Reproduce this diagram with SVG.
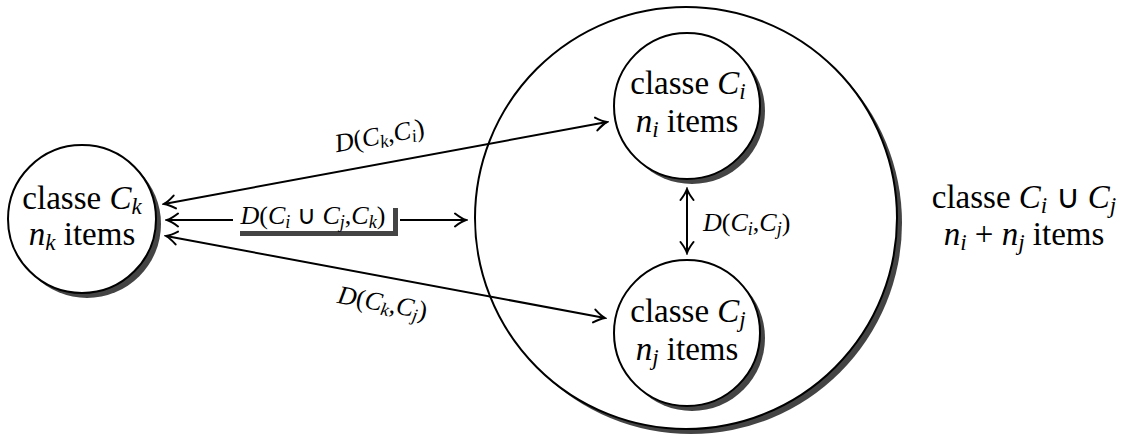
<svg xmlns="http://www.w3.org/2000/svg" width="1125" height="436" viewBox="0 0 1125 436">
<style>
.sh{fill:#444;stroke:none}
.nd{fill:#fff;stroke:#000;stroke-width:2}
text{fill:#000}
.t{font-size:33px}
.l{font-size:26px}
.m{font-style:italic}
.s{font-size:0.7em;font-style:italic}
.ln{fill:none;stroke:#000;stroke-width:2}
</style>
<defs>
<marker id="ah" viewBox="-13 -8 15 16" refX="0" refY="0" markerWidth="15" markerHeight="16" markerUnits="userSpaceOnUse" orient="auto-start-reverse">
<path d="M-11,-6.5 Q-4.5,-1.5 0,0 Q-4.5,1.5 -11,6.5" fill="none" stroke="#000" stroke-width="2" stroke-linecap="round"/>
</marker>
</defs>
<g id="union" font-family="Liberation Serif, serif">
<circle class="sh" cx="691" cy="223" r="211"/>
<circle class="nd" cx="686" cy="218" r="211"/>
<text class="t" x="1024" y="208" text-anchor="middle">classe <tspan class="m">C</tspan><tspan class="s" dy="5">i</tspan><tspan dy="-5"> ∪ </tspan><tspan class="m">C</tspan><tspan class="s" dy="5">j</tspan></text>
<text class="t" x="1024" y="245" text-anchor="middle"><tspan class="m">n</tspan><tspan class="s" dy="5">i</tspan><tspan dy="-5"> + </tspan><tspan class="m">n</tspan><tspan class="s" dy="5">j</tspan><tspan dy="-5"> items</tspan></text>
</g>
<g id="ck" font-family="Liberation Serif, serif">
<circle class="sh" cx="87" cy="224" r="74"/>
<circle class="nd" cx="82" cy="219" r="74"/>
<text class="t" x="82" y="209" text-anchor="middle">classe <tspan class="m">C</tspan><tspan class="s" dy="5">k</tspan></text>
<text class="t" x="82" y="245" text-anchor="middle"><tspan class="m">n</tspan><tspan class="s" dy="5">k</tspan><tspan dy="-5"> items</tspan></text>
</g>
<g id="ci" font-family="Liberation Serif, serif">
<circle class="sh" cx="692" cy="111" r="73"/>
<circle class="nd" cx="687" cy="106" r="73"/>
<text class="t" x="688" y="94" text-anchor="middle">classe <tspan class="m">C</tspan><tspan class="s" dy="5">i</tspan></text>
<text class="t" x="687" y="132" text-anchor="middle"><tspan class="m">n</tspan><tspan class="s" dy="5">i</tspan><tspan dy="-5"> items</tspan></text>
</g>
<g id="cj" font-family="Liberation Serif, serif">
<circle class="sh" cx="692" cy="338" r="73"/>
<circle class="nd" cx="687" cy="333" r="73"/>
<text class="t" x="688" y="322" text-anchor="middle">classe <tspan class="m">C</tspan><tspan class="s" dy="5">j</tspan></text>
<text class="t" x="687" y="360" text-anchor="middle"><tspan class="m">n</tspan><tspan class="s" dy="5">j</tspan><tspan dy="-5"> items</tspan></text>
</g>
<g id="connectors" font-family="Liberation Serif, serif">
<line class="ln" x1="164" y1="204" x2="607" y2="122" marker-start="url(#ah)" marker-end="url(#ah)"/>
<text class="l" x="381" y="144" text-anchor="middle" transform="rotate(-10.5 381 144)"><tspan class="m">D</tspan>(<tspan class="m">C</tspan><tspan class="s" dy="4">k</tspan><tspan dy="-4">,</tspan><tspan class="m">C</tspan><tspan class="s" dy="4">i</tspan><tspan dy="-4">)</tspan></text>
<line class="ln" x1="166" y1="236" x2="605" y2="318" marker-start="url(#ah)" marker-end="url(#ah)"/>
<text class="l" x="381" y="311" text-anchor="middle" transform="rotate(10.5 381 311)"><tspan class="m">D</tspan>(<tspan class="m">C</tspan><tspan class="s" dy="4">k</tspan><tspan dy="-4">,</tspan><tspan class="m">C</tspan><tspan class="s" dy="4">j</tspan><tspan dy="-4">)</tspan></text>
<line class="ln" x1="233" y1="220" x2="167" y2="220" marker-end="url(#ah)"/>
<line class="ln" x1="400" y1="220" x2="466" y2="220" marker-end="url(#ah)"/>
<rect class="sh" x="240" y="208" width="158" height="28"/>
<rect x="235" y="203" width="158" height="28" fill="#fff"/>
<text class="l" x="313" y="224" text-anchor="middle"><tspan class="m">D</tspan>(<tspan class="m">C</tspan><tspan class="s" dy="4">i</tspan><tspan dy="-4"> ∪ </tspan><tspan class="m">C</tspan><tspan class="s" dy="4">j</tspan><tspan dy="-4">,</tspan><tspan class="m">C</tspan><tspan class="s" dy="4">k</tspan><tspan dy="-4">)</tspan></text>
<line class="ln" x1="687" y1="189" x2="687" y2="253" marker-start="url(#ah)" marker-end="url(#ah)"/>
<text class="l" x="703" y="231"><tspan class="m">D</tspan>(<tspan class="m">C</tspan><tspan class="s" dy="4">i</tspan><tspan dy="-4">,</tspan><tspan class="m">C</tspan><tspan class="s" dy="4">j</tspan><tspan dy="-4">)</tspan></text>
</g>
</svg>
